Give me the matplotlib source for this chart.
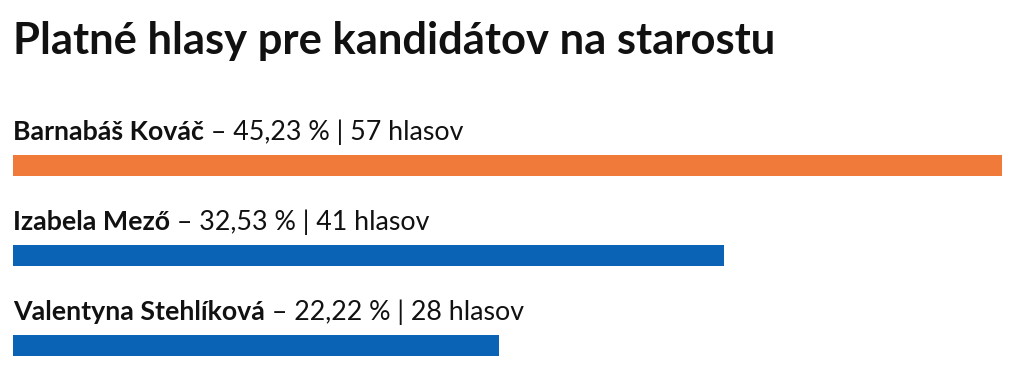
import matplotlib
matplotlib.use("Agg")
import matplotlib.pyplot as plt
import matplotlib.transforms as mtransforms

plt.rcParams["font.family"] = ["Lato", "DejaVu Sans"]

title = "Platné hlasy pre kandidátov na starostu"
candidates = ["Barnabáš Kováč", "Izabela Mező", "Valentyna Stehlíková"]
percents = ["45,23", "32,53", "22,22"]
votes = [57, 41, 28]
colors = ["#F07A3A", "#0B63B5", "#0B63B5"]

W, H, DPI = 1024, 370, 100
fig = plt.figure(figsize=(W / DPI, H / DPI), dpi=DPI)
fig.patch.set_facecolor("white")

# axes spans the bar area horizontally; y in row units (1 row = 90 px)
left_px, right_px = 13, 1002
row_px, first_px = 90, 165
ax = fig.add_axes([left_px / W, 0, (right_px - left_px) / W, 1])
ax.set_xlim(0, max(votes))
ax.set_ylim((H - first_px) / row_px, -first_px / row_px)
ax.axis("off")

ax.barh(range(len(votes)), votes, height=21 / row_px, color=colors, left=0)

text_color = "#111111"
fs = 19.3
fig.text(left_px / W, 1 - 54 / H, title, fontsize=31.3, fontweight="bold",
         color=text_color, va="baseline", ha="left")

fig.canvas.draw()
renderer = fig.canvas.get_renderer()
for i, (name, pct, v) in enumerate(zip(candidates, percents, votes)):
    y = i - 25 / row_px
    t = ax.text(0, y, name, fontsize=fs, fontweight="bold", color=text_color,
                va="baseline", ha="left")
    w = t.get_window_extent(renderer).width
    tr = mtransforms.offset_copy(ax.transData, fig=fig, x=w * 72 / DPI, y=0,
                                 units="points")
    ax.text(0, y, f" – {pct} % | {v} hlasov", fontsize=fs, color=text_color,
            va="baseline", ha="left", transform=tr)

fig.savefig("out.png", dpi=DPI, facecolor="white")
